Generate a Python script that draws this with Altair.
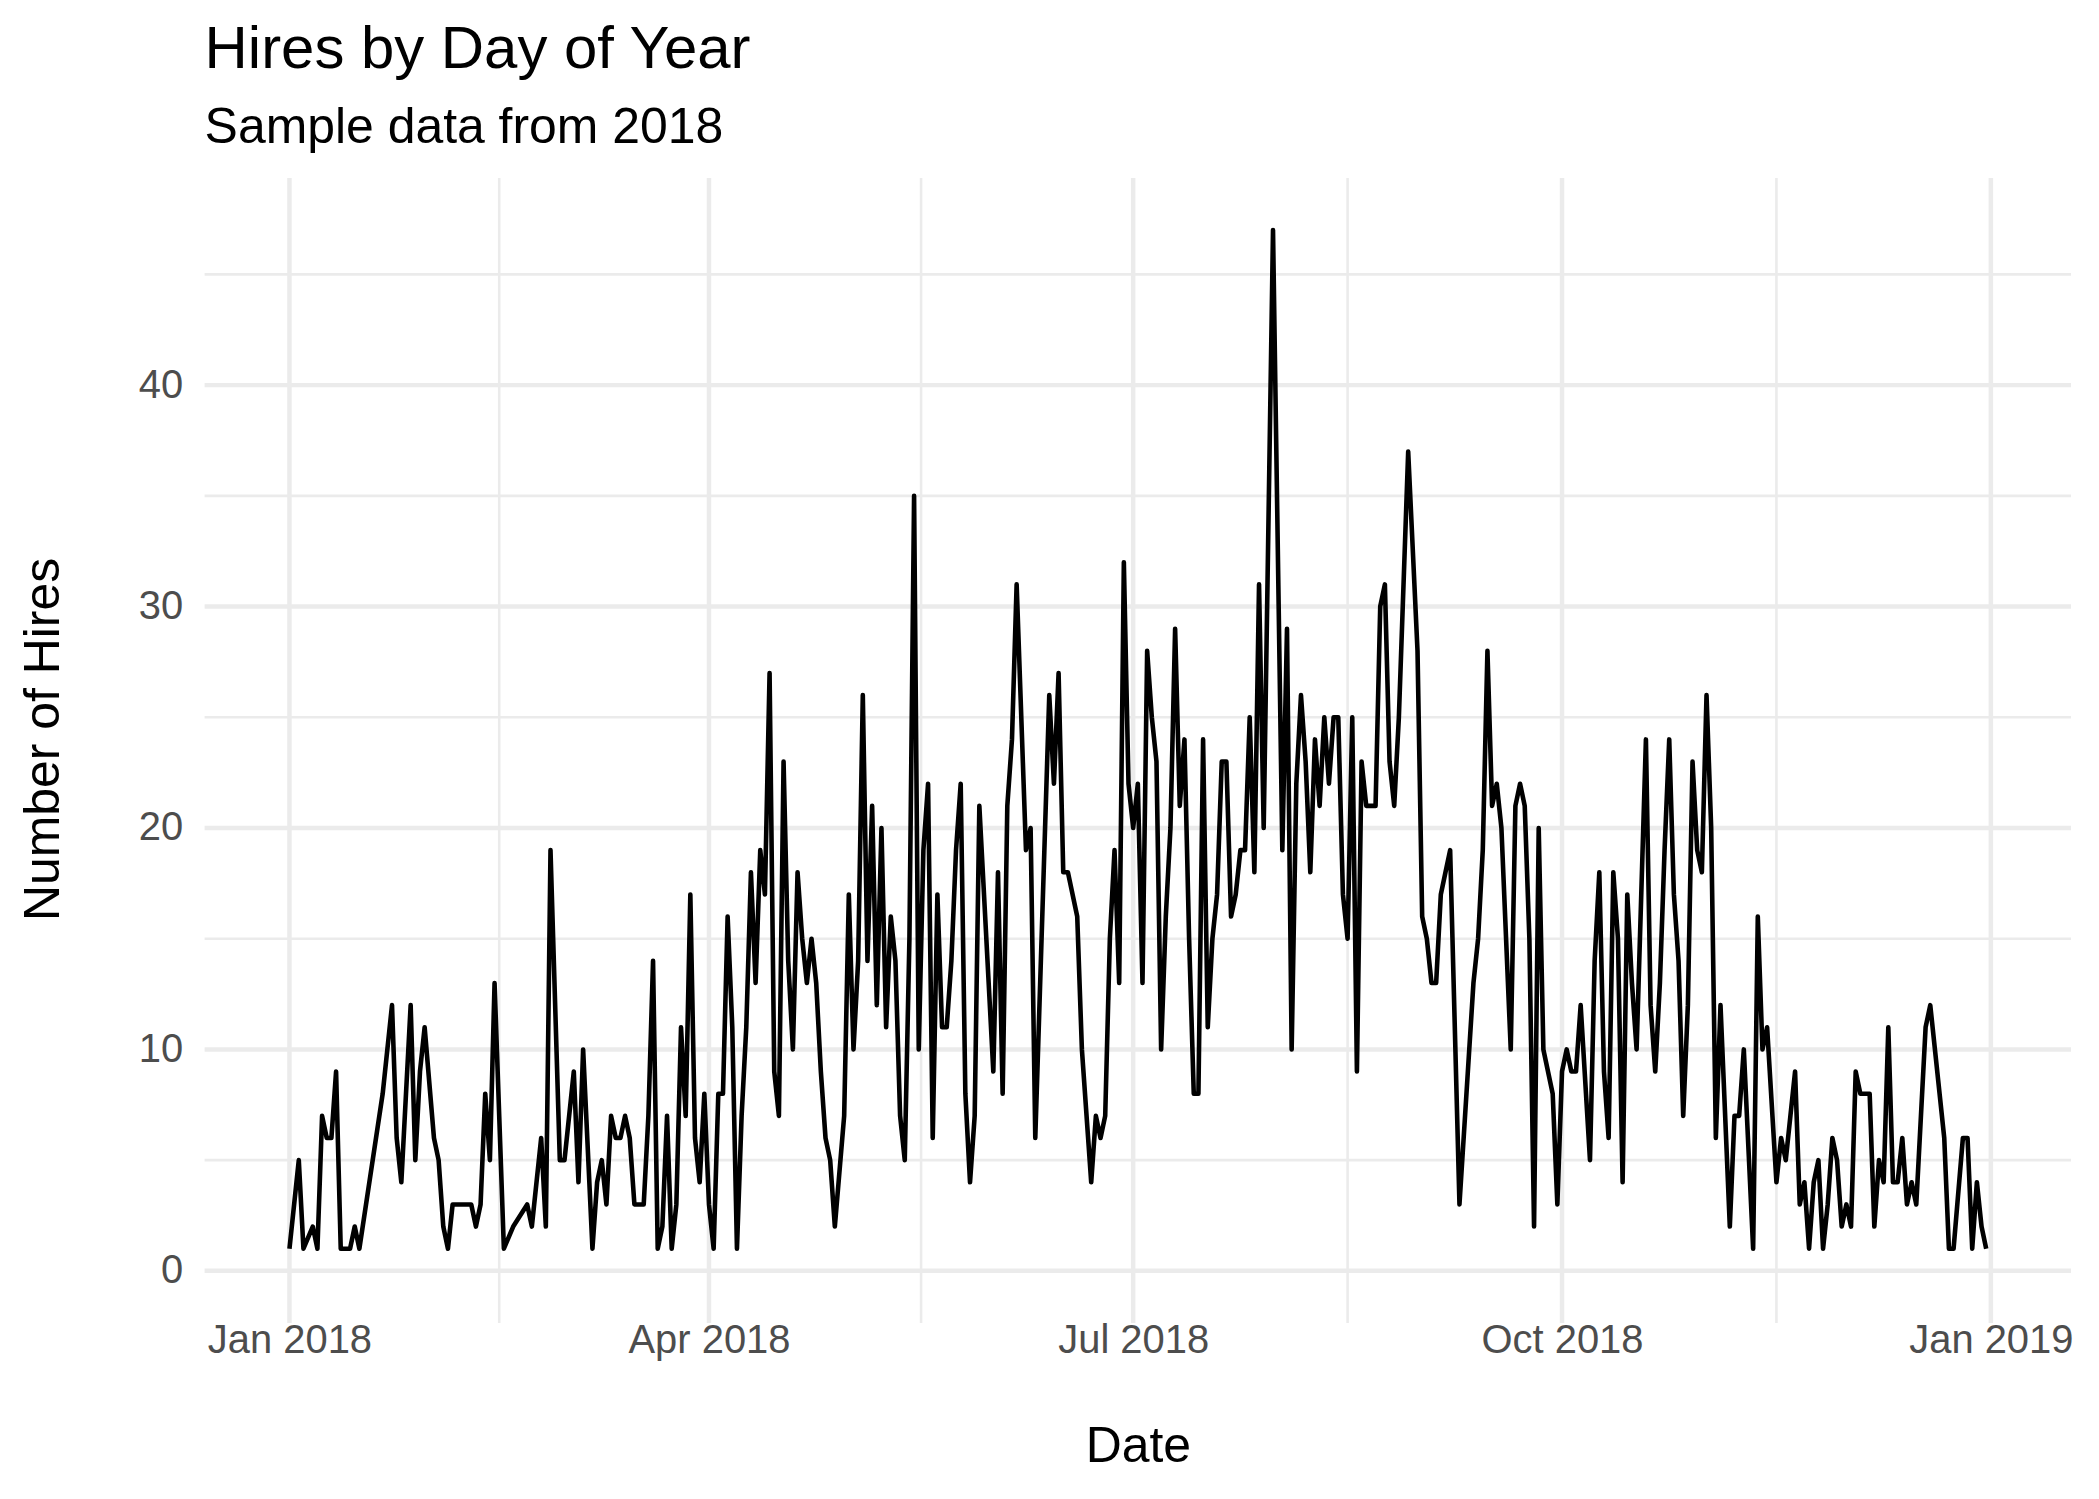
import altair as alt
import pandas as pd

# Day offsets from 2018-01-01 and number of hires on that day
days = [0, 2, 3, 5, 6, 7, 8, 9, 10, 11, 12, 13, 14, 15, 20, 22, 23, 24, 26, 27, 28, 29,
        31, 32, 33, 34, 35, 36, 37, 39, 40, 41, 42, 43, 44, 46, 48, 51, 52, 54, 55, 56, 58, 59,
        61, 62, 63, 65, 66, 67, 68, 69, 70, 71, 72, 73, 74, 76, 77, 78, 79, 80, 81, 82, 83, 84,
        85, 86, 87, 88, 89, 90, 91, 92, 93, 94, 95, 96, 97, 98, 99, 100, 101, 102, 103, 104,
        105, 106, 107, 108, 109, 110, 111, 112, 113, 114, 115, 116, 117, 119, 120, 121, 122,
        123, 124, 125, 126, 127, 128, 129, 130, 131, 132, 133, 134, 135, 136, 137, 138, 139,
        140, 141, 142, 143, 144, 145, 146, 147, 148, 151, 152, 153, 154, 155, 156, 158, 159,
        160, 163, 164, 165, 166, 167, 169, 170, 172, 173, 174, 175, 176, 177, 178, 179, 180,
        181, 182, 183, 184, 185, 186, 187, 188, 189, 190, 191, 192, 193, 194, 195, 196, 197,
        198, 199, 200, 201, 202, 203, 204, 205, 206, 207, 208, 209, 211, 213, 214, 215, 216,
        217, 218, 219, 220, 221, 222, 223, 224, 225, 226, 227, 228, 229, 230, 231, 232, 233,
        234, 235, 236, 237, 238, 240, 242, 243, 244, 245, 246, 247, 248, 249, 251, 254, 255,
        256, 257, 258, 259, 260, 262, 263, 264, 265, 266, 267, 268, 269, 271, 272, 273, 274,
        275, 276, 277, 279, 280, 281, 282, 283, 284, 285, 286, 287, 288, 289, 290, 291, 292,
        293, 294, 295, 296, 297, 298, 299, 300, 301, 302, 303, 304, 305, 306, 307, 309, 310,
        311, 312, 314, 315, 316, 317, 319, 320, 321, 322, 323, 324, 325, 326, 327, 328, 329,
        330, 331, 332, 333, 334, 335, 336, 337, 338, 339, 340, 341, 342, 343, 344, 345, 346,
        347, 348, 349, 351, 352, 355, 356, 357, 359, 360, 361, 362, 363, 364]
hires = [1, 5, 1, 2, 1, 7, 6, 6, 9, 1, 1, 1, 2, 1, 8, 12, 6, 4, 12, 5, 9, 11,
         6, 5, 2, 1, 3, 3, 3, 3, 2, 3, 8, 5, 13, 1, 2, 3, 2, 6, 2, 19, 5, 5,
         9, 4, 10, 1, 4, 5, 3, 7, 6, 6, 7, 6, 3, 3, 7, 14, 1, 2, 7, 1, 3, 11,
         7, 17, 6, 4, 8, 3, 1, 8, 8, 16, 11, 1, 7, 11, 18, 13, 19, 17, 27, 9,
         7, 23, 14, 10, 18, 15, 13, 15, 13, 9, 6, 5, 2, 7, 17, 10, 14,
         26, 14, 21, 12, 20, 11, 16, 14, 7, 5, 15, 35, 10, 19, 22, 6, 17,
         11, 11, 14, 19, 22, 8, 4, 7, 21, 9, 18, 8, 21, 24, 31, 19, 20,
         6, 26, 22, 27, 18, 18, 16, 10, 4, 7, 6, 7, 15, 19, 13, 32, 22,
         20, 22, 13, 28, 25, 23, 10, 16, 20, 29, 21, 24, 15, 8, 8, 24, 11,
         15, 17, 23, 23, 16, 17, 19, 19, 25, 18, 31, 20, 47, 19, 29, 10, 22,
         26, 23, 18, 24, 21, 25, 22, 25, 25, 17, 15, 25, 9, 23, 21, 21, 21,
         30, 31, 23, 21, 25, 37, 28, 16, 15, 13, 13, 17, 18, 19, 3, 13, 15,
         19, 28, 21, 22, 20, 10, 21, 22, 21, 15, 2, 20, 10, 8, 3, 9, 10,
         9, 9, 12, 5, 14, 18, 9, 6, 18, 15, 4, 17, 13, 10, 17, 24, 12,
         9, 13, 19, 24, 17, 14, 7, 12, 23, 19, 18, 26, 20, 6, 12, 2, 7,
         7, 10, 1, 16, 10, 11, 4, 6, 5, 7, 9, 3, 4, 1, 4, 5, 1,
         3, 6, 5, 2, 3, 2, 9, 8, 8, 8, 2, 5, 4, 11, 4, 4, 6,
         3, 4, 3, 11, 12, 6, 1, 1, 6, 6, 1, 4, 2, 1]

x_major = ["2018-01-01", "2018-04-01", "2018-07-01", "2018-10-01", "2019-01-01"]
x_minor = ["2018-02-15T00:00:00", "2018-05-16T12:00:00", "2018-08-16T00:00:00", "2018-11-16T00:00:00"]
y_major = [0, 10, 20, 30, 40]
y_minor = [5, 15, 25, 35, 45]

df = pd.DataFrame({
    "date": pd.Timestamp("2018-01-01") + pd.to_timedelta(days, unit="D"),
    "hires": hires,
})

x_scale = alt.Scale(domain=[alt.DateTime(year=2017, month=12, date=13, hours=19, minutes=12),
                            alt.DateTime(year=2019, month=1, date=18, hours=4, minutes=48)])
y_scale = alt.Scale(domain=[-2.35, 49.35], nice=False, zero=False)

x_axis = alt.Axis(values=[alt.DateTime(year=int(s[:4]), month=int(s[5:7]), date=1) for s in x_major],
                  format="%b %Y", grid=False, domain=False, ticks=False, tickSize=0,
                  labelFontSize=40, labelColor="#4D4D4D", labelFont="Liberation Sans",
                  labelPadding=-2, labelFlush=False, labelOverlap=False,
                  titleFontSize=50, titleFont="Liberation Sans", titleFontWeight="normal",
                  titleColor="black", titlePadding=61)
y_axis = alt.Axis(values=y_major, grid=False, domain=False, ticks=False, tickSize=0,
                  labelFontSize=40, labelColor="#4D4D4D", labelFont="Liberation Sans",
                  labelPadding=22, titleFontSize=50, titleFont="Liberation Sans",
                  titleFontWeight="normal", titleColor="black", titlePadding=70,
                  titleY=562)

GRID = "#EBEBEB"

def vgrid(vals, w):
    return alt.Chart(pd.DataFrame({"date": pd.to_datetime(vals, format="ISO8601")})).mark_rule(
        color=GRID, strokeWidth=w).encode(
        x=alt.X("date:T", scale=x_scale, title="Date", axis=x_axis))

def hgrid(vals, w):
    return alt.Chart(pd.DataFrame({"hires": vals})).mark_rule(
        color=GRID, strokeWidth=w).encode(
        y=alt.Y("hires:Q", scale=y_scale, title="Number of Hires", axis=y_axis))

line = alt.Chart(df).mark_line(color="black", strokeWidth=4.6, strokeJoin="round").encode(
    x=alt.X("date:T", scale=x_scale, title="Date", axis=x_axis),
    y=alt.Y("hires:Q", scale=y_scale, title="Number of Hires", axis=y_axis),
)

chart = alt.layer(
    vgrid(x_minor, 2.6), hgrid(y_minor, 2.6), vgrid(x_major, 4.5), hgrid(y_major, 4.5), line
).properties(
    width=1870, height=1147,
    background="white",
    title=alt.TitleParams(
        text="Hires by Day of Year", subtitle="Sample data from 2018",
        anchor="start", frame="group", fontSize=60, subtitleFontSize=50,
        font="Liberation Sans", subtitleFont="Liberation Sans", fontWeight="normal",
        color="black", subtitleColor="black", subtitlePadding=22, offset=22),
    autosize=alt.AutoSizeParams(type="none"),
    padding={"left": 197, "top": 169, "right": 20, "bottom": 160},
).configure_view(strokeWidth=0, stroke="transparent")

chart.save("out.html", embed_options={"renderer": "svg", "actions": False})
